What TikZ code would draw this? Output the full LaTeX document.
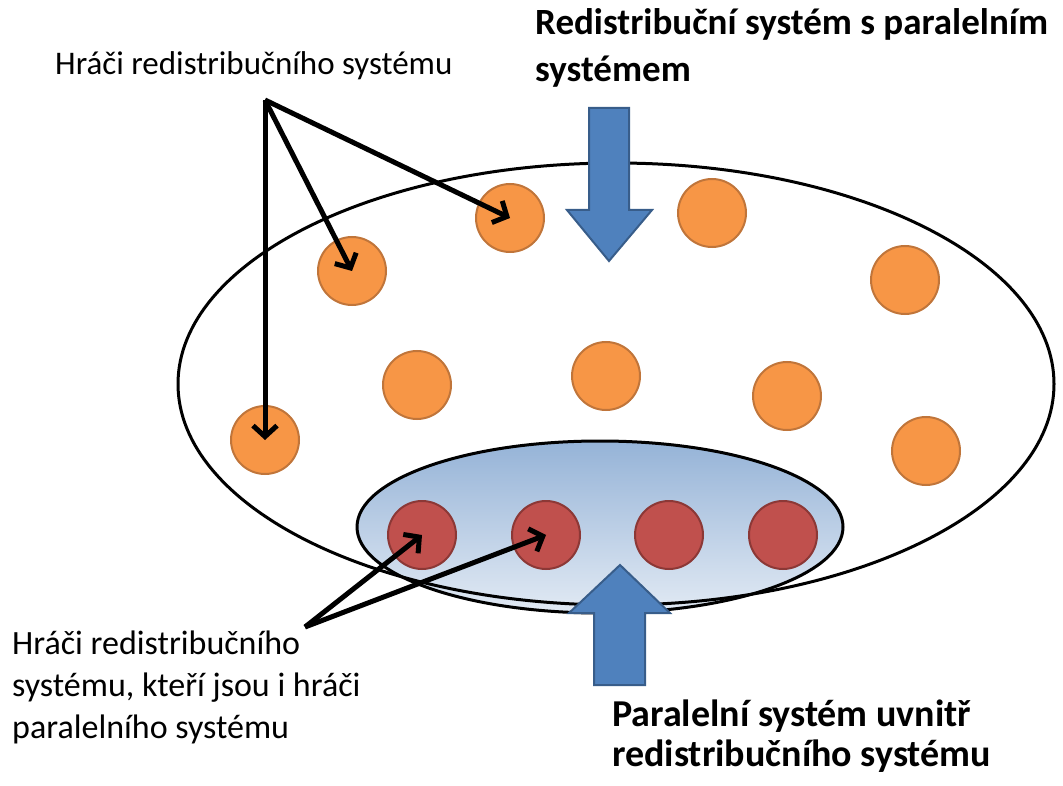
\documentclass[tikz,border=0pt]{standalone}
\usepackage{fontspec}
\setmainfont{Carlito}
\usetikzlibrary{arrows.meta}
\definecolor{orangefill}{HTML}{F79646}
\definecolor{orangeline}{HTML}{C0753A}
\definecolor{redfill}{HTML}{C0504D}
\definecolor{redline}{HTML}{8C3836}
\definecolor{bluefill}{HTML}{4F81BD}
\definecolor{blueline}{HTML}{385D8A}
\definecolor{innertop}{HTML}{95B3D7}
\definecolor{innerbottom}{HTML}{E2EAF4}
\tikzstyle{player} = [circle, minimum size=68pt, inner sep=0pt, draw=orangeline, line width=2pt, fill=orangefill]
\tikzstyle{shared} = [player, draw=redline, fill=redfill]
\tikzstyle{label} = [anchor=north west, inner sep=0pt, align=left]
\tikzstyle{blockarrow} = [draw=blueline, line width=2pt, fill=bluefill, line join=miter]
\tikzstyle{arrow} = [line width=5pt, -{Straight Barb[length=11pt,width=24pt]}]

\begin{document}
\begin{tikzpicture}[x=1pt, y=-1pt]
\useasboundingbox (0,0) rectangle (1063,786);

% inner (parallel) system
\draw[black, line width=3pt, top color=innertop, bottom color=innerbottom] (600,527) ellipse [x radius=243, y radius=86];
% redistribution system
\draw[black, line width=3pt] (616,384) ellipse [x radius=438, y radius=221];

% players
\node (o1) [player] at (510,218) {};
\node (o2) [player] at (352,271) {};
\node (o3) [player] at (712,213) {};
\node (o4) [player] at (905,280) {};
\node (o5) [player] at (417,385) {};
\node (o6) [player] at (606,376) {};
\node (o7) [player] at (787,396) {};
\node (o8) [player] at (926,451) {};
\node (o9) [player] at (265,440) {};
\node (r1) [shared] at (422,535) {};
\node (r2) [shared] at (546,535) {};
\node (r3) [shared] at (669,535) {};
\node (r4) [shared] at (783,535) {};

% block arrows
\draw[blockarrow] (589,108) -- (629,108) -- (629,210) -- (652,210) -- (609,261) -- (567,210) -- (589,210) -- cycle;
\draw[blockarrow] (594,685) -- (645,685) -- (645,613) -- (670,613) -- (620,565) -- (569,613) -- (594,613) -- cycle;

% texts
\node (top) [label, font=\bfseries\fontsize{37}{47}\selectfont] at (535,8) {Redistribuční systém s paralelním\\systémem};
\node (bottom) [label, font=\bfseries\fontsize{38}{40}\selectfont] at (612,700) {Paralelní systém uvnitř\\redistribučního systému};
\node (players) [label, font=\fontsize{33}{40}\selectfont] at (55,51) {Hráči redistribučního systému};
\node (both) [label, font=\fontsize{34}{42}\selectfont] at (12,631) {Hráči redistribučního\\systému, kteří jsou i hráči\\paralelního systému};

% pointers
\coordinate (apex) at (265,100);
\coordinate (from) at (305,627);
\draw[arrow] (apex) -- (o1.center);
\draw[arrow] (apex) -- (o2.center);
\draw[arrow] (apex) -- (o9.center);
\draw[arrow] (from) -- (r1.center);
\draw[arrow] (from) -- (r2.center);

\end{tikzpicture}
\end{document}
